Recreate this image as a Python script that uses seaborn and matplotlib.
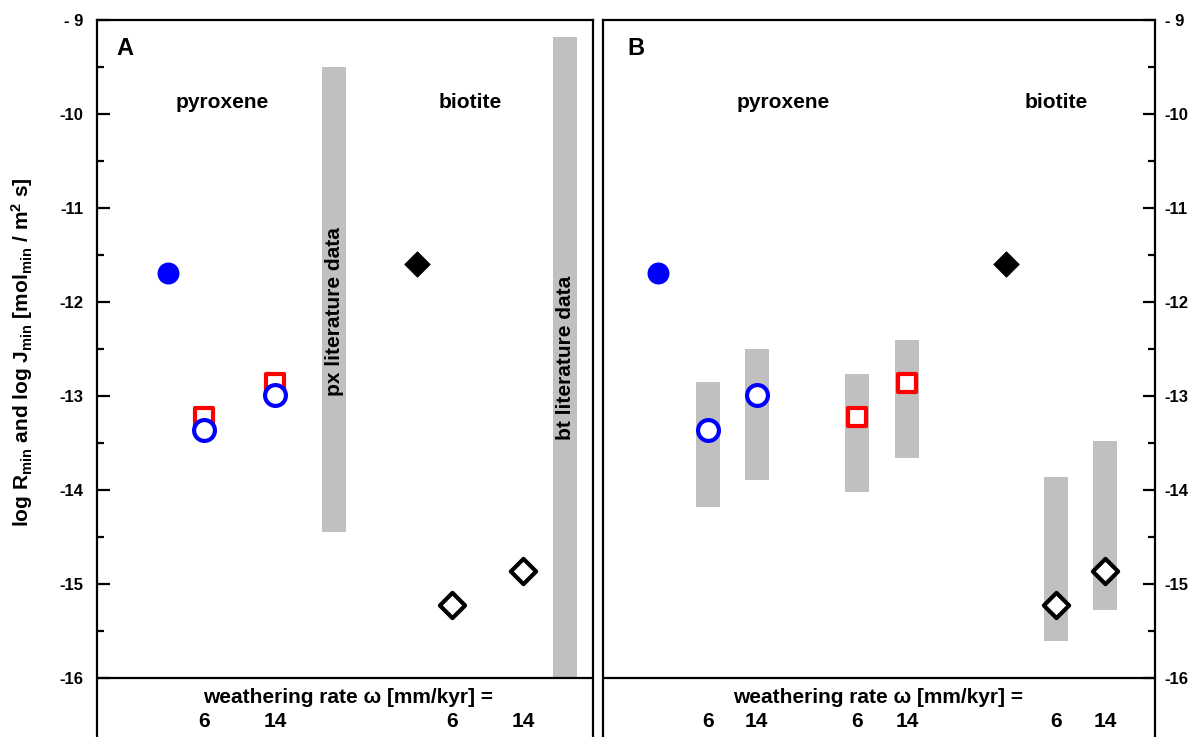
import matplotlib
matplotlib.use("Agg")
import matplotlib.pyplot as plt
import seaborn as sns
import pandas as pd

# ---- data (log10 rates, mol_min / m^2 s) ----
rate_labels = ["6", "14"]                 # weathering rate omega [mm/kyr]
px_measured = -11.69                      # pyroxene, filled circle
bt_measured = -11.60                      # biotite, filled diamond
px_J = [-13.36, -12.99]                   # pyroxene J_min (blue open circles)
px_R = [-13.23, -12.86]                   # pyroxene R_min (red open squares)
bt_R = [-15.22, -14.86]                   # biotite R_min (open diamonds)
px_lit = [-14.45, -9.50]                  # px literature data range
bt_lit = [-16.00, -9.18]                  # bt literature data range
px_J_lo = [-14.18, -13.89]
px_J_hi = [-12.85, -12.50]
px_R_lo = [-14.02, -13.66]
px_R_hi = [-12.77, -12.41]
bt_R_lo = [-15.61, -15.28]
bt_R_hi = [-13.86, -13.48]
y_major = [-16, -15, -14, -13, -12, -11, -10, -9]
y_labels = ["-16", "-15", "-14", "-13", "-12", "-11", "-10", "- 9"]

# ---- styling ----
sns.set_theme(style="white")
plt.rcParams["font.family"] = ["Liberation Sans", "DejaVu Sans"]
plt.rcParams["font.weight"] = "bold"
plt.rcParams["text.color"] = "black"
plt.rcParams["axes.labelcolor"] = "black"
plt.rcParams["xtick.color"] = "black"
plt.rcParams["ytick.color"] = "black"
plt.rcParams["mathtext.fontset"] = "custom"
plt.rcParams["mathtext.rm"] = "Liberation Sans:bold"
plt.rcParams["mathtext.it"] = "Liberation Sans:bold"
plt.rcParams["mathtext.bf"] = "Liberation Sans:bold"
plt.rcParams["mathtext.default"] = "rm"

GRAY = "#c0c0c0"
BLUE = "#0000ff"
RED = "#ff0000"
LABEL_FS = 15
TICK_FS = 12
BAR_W = 0.48
YMIN, YMAX = -16.63, -9.0

fig = plt.figure(figsize=(11.97, 7.37), dpi=100)
axA = fig.add_axes([97 / 1197, 0.0, 496 / 1197, 717 / 737])
axB = fig.add_axes([603 / 1197, 0.0, 552 / 1197, 717 / 737])


def frame(ax, xmax, side):
    ax.set_xlim(0, xmax)
    ax.set_ylim(YMIN, YMAX)
    ax.set_xticks([])
    for s in ("left", "right", "top"):
        ax.spines[s].set_linewidth(1.6)
        ax.spines[s].set_color("black")
    ax.spines["bottom"].set_visible(False)
    ax.axhline(-16, color="black", lw=1.6, zorder=5)
    ax.set_yticks(y_major)
    ax.set_yticks([v + 0.5 for v in y_major[:-1]], minor=True)
    ax.set_yticklabels(y_labels, fontsize=TICK_FS, fontweight="bold", color="black")
    pad = 10 if side == "left" else 7
    ax.tick_params(axis="y", which="major", direction="in", length=9, width=1.6, pad=pad,
                   colors="black")
    ax.tick_params(axis="y", which="minor", direction="in", length=5, width=1.6,
                   colors="black")
    if side == "left":
        ax.yaxis.set_ticks_position("left")
        ax.yaxis.set_label_position("left")
    else:
        ax.yaxis.set_ticks_position("right")
        ax.yaxis.set_label_position("right")
    ax.grid(False)


def points(ax, x, y, marker, size, face, edge, lw, z):
    df = pd.DataFrame({"x": x, "y": y})
    sns.scatterplot(data=df, x="x", y="y", marker=marker, s=size, color=face,
                    edgecolor=edge, linewidth=lw, ax=ax, zorder=z, legend=False)


def ranges(ax, x, lo, hi):
    ax.bar(x, [h - l for l, h in zip(lo, hi)], bottom=lo, width=BAR_W,
           color=GRAY, linewidth=0, zorder=1)


def label(ax, x, y, s, **kw):
    kw.setdefault("fontsize", LABEL_FS)
    kw.setdefault("ha", "center")
    kw.setdefault("va", "center")
    ax.text(x, y, s, fontweight="bold", color="black", **kw)


# ---------------- panel A ----------------
xA_px_meas = [1.43]
xA_px = [2.16, 3.59]
xA_px_lit = [4.78]
xA_bt_meas = [6.45]
xA_bt = [7.16, 8.59]
xA_bt_lit = [9.44]

frame(axA, 10.0, "left")
ranges(axA, xA_px_lit, [px_lit[0]], [px_lit[1]])
ranges(axA, xA_bt_lit, [bt_lit[0]], [bt_lit[1]])
points(axA, xA_px_meas, [px_measured], "o", 250, BLUE, BLUE, 0, 3)
points(axA, xA_px, px_R, "s", 160, "white", RED, 3.0, 3)
points(axA, xA_px, px_J, "o", 225, "white", BLUE, 3.0, 4)
points(axA, xA_bt_meas, [bt_measured], "D", 170, "black", "black", 0.5, 3)
points(axA, xA_bt, bt_R, "D", 165, "white", "black", 3.0, 3)

label(axA, xA_px_lit[0], -12.1, "px literature data", rotation=90, zorder=2)
label(axA, xA_bt_lit[0], -12.6, "bt literature data", rotation=90, zorder=2)
label(axA, 0.40, -9.30, "A", ha="left", fontsize=17)
label(axA, 2.52, -9.88, "pyroxene")
label(axA, 7.52, -9.88, "biotite")
label(axA, 5.06, -16.21, "weathering rate \u03c9 [mm/kyr] =")
for xs in (xA_px, xA_bt):
    for xv, lab in zip(xs, rate_labels):
        label(axA, xv, -16.47, lab)

# ---------------- panel B ----------------
xB_px_meas = [1.11]
xB_J = [2.12, 3.10]
xB_R = [5.12, 6.13]
xB_bt_meas = [8.13]
xB_bt = [9.13, 10.12]

frame(axB, 552 / 49.6, "right")
ranges(axB, xB_J, px_J_lo, px_J_hi)
ranges(axB, xB_R, px_R_lo, px_R_hi)
ranges(axB, xB_bt, bt_R_lo, bt_R_hi)
points(axB, xB_px_meas, [px_measured], "o", 250, BLUE, BLUE, 0, 3)
points(axB, xB_J, px_J, "o", 225, "white", BLUE, 3.0, 4)
points(axB, xB_R, px_R, "s", 160, "white", RED, 3.0, 3)
points(axB, xB_bt_meas, [bt_measured], "D", 170, "black", "black", 0.5, 3)
points(axB, xB_bt, bt_R, "D", 165, "white", "black", 3.0, 3)

label(axB, 0.50, -9.30, "B", ha="left", fontsize=17)
label(axB, 3.63, -9.88, "pyroxene")
label(axB, 9.13, -9.88, "biotite")
label(axB, 5.55, -16.21, "weathering rate \u03c9 [mm/kyr] =")
for xs in (xB_J, xB_R, xB_bt):
    for xv, lab in zip(xs, rate_labels):
        label(axB, xv, -16.47, lab)

for ax in (axA, axB):
    ax.set_xlabel("")
    ax.set_ylabel("")

fig.text(22 / 1197, 1 - 352 / 737,
         r"log R$_{min}$ and log J$_{min}$ [mol$_{min}$ / m$^{2}$ s]",
         rotation=90, ha="center", va="center", fontsize=LABEL_FS,
         fontweight="bold", color="black")

fig.savefig("out.png", dpi=100)
